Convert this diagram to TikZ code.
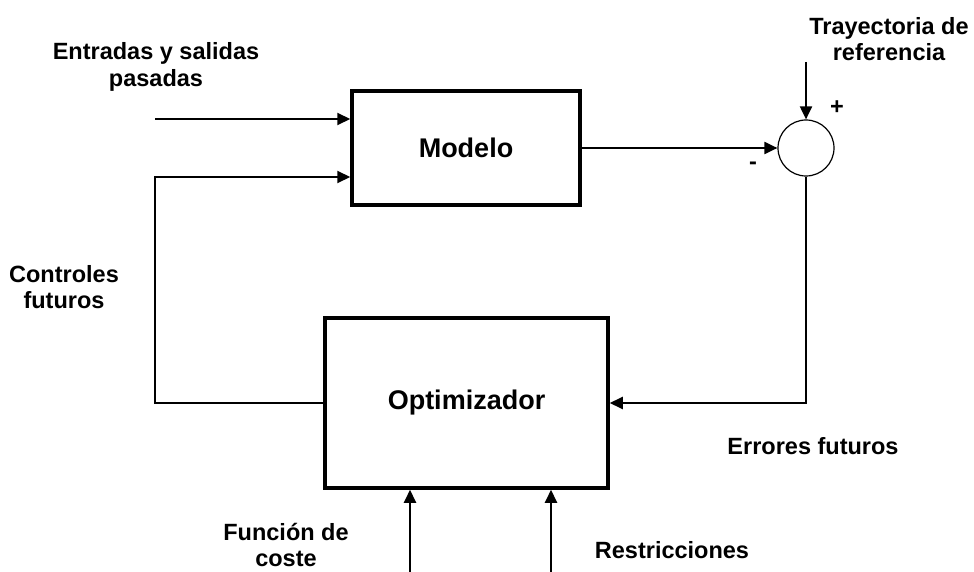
\documentclass[tikz,border=0pt]{standalone}
\usepackage{fontspec}
\setmainfont{Liberation Sans}
\usetikzlibrary{arrows.meta,calc,positioning}

\begin{document}
\begin{tikzpicture}[x=1pt,y=-1pt,>={Triangle[length=13pt,width=12pt]},
  bloque/.style={draw,line width=3.5pt,minimum width=228pt,minimum height=114pt,
    font=\fontsize{27}{32}\selectfont\bfseries},
  etiq/.style={align=center,inner sep=0pt,font=\fontsize{23.5}{26.5}\selectfont\bfseries},
  flecha/.style={line width=2pt,->}]
  \useasboundingbox (0,0) rectangle (974,572);
  % bloques
  \node[bloque] (modelo) at (466,148) {Modelo};
  \node[bloque,minimum width=283pt,minimum height=170pt] (optim) at (466.5,403) {Optimizador};
  \node[draw,circle,line width=1.2pt,minimum size=56pt,inner sep=0pt] (suma) at (806,148) {};
  % extremos libres
  \coordinate (ent) at (155,119);
  \coordinate (esq) at (155,403);
  \coordinate (ref) at (806,62);
  \coordinate (fc) at (410,572);
  \coordinate (res) at (551,572);
  % conexiones
  \draw[flecha] (ent) -- (ent -| modelo.west);
  \draw[flecha] (optim.west) -- (esq) |- ($(modelo.west)+(0,29)$);
  \draw[flecha] (modelo.east) -- (suma.west);
  \draw[flecha] (ref) -- (suma.north);
  \draw[flecha] (suma.south) |- (optim.east);
  \draw[flecha] (fc) -- (fc |- optim.south);
  \draw[flecha] (res) -- (res |- optim.south);
  % textos
  \node[etiq] (entradas) at (156,67) {Entradas y salidas\\pasadas};
  \node[etiq] (trayect) at (889,39) {Trayectoria de\\referencia};
  \node[etiq] (mas) at (837,108) {+};
  \node[etiq] (menos) at (753,166) {-};
  \node[etiq] (controles) at (64,287) {Controles\\futuros};
  \node[etiq] (errores) at (813,446) {Errores futuros};
  \node[etiq] (funcion) at (286,545) {Función de\\coste};
  \node[etiq] (restric) at (672,550) {Restricciones};
\end{tikzpicture}
\end{document}
